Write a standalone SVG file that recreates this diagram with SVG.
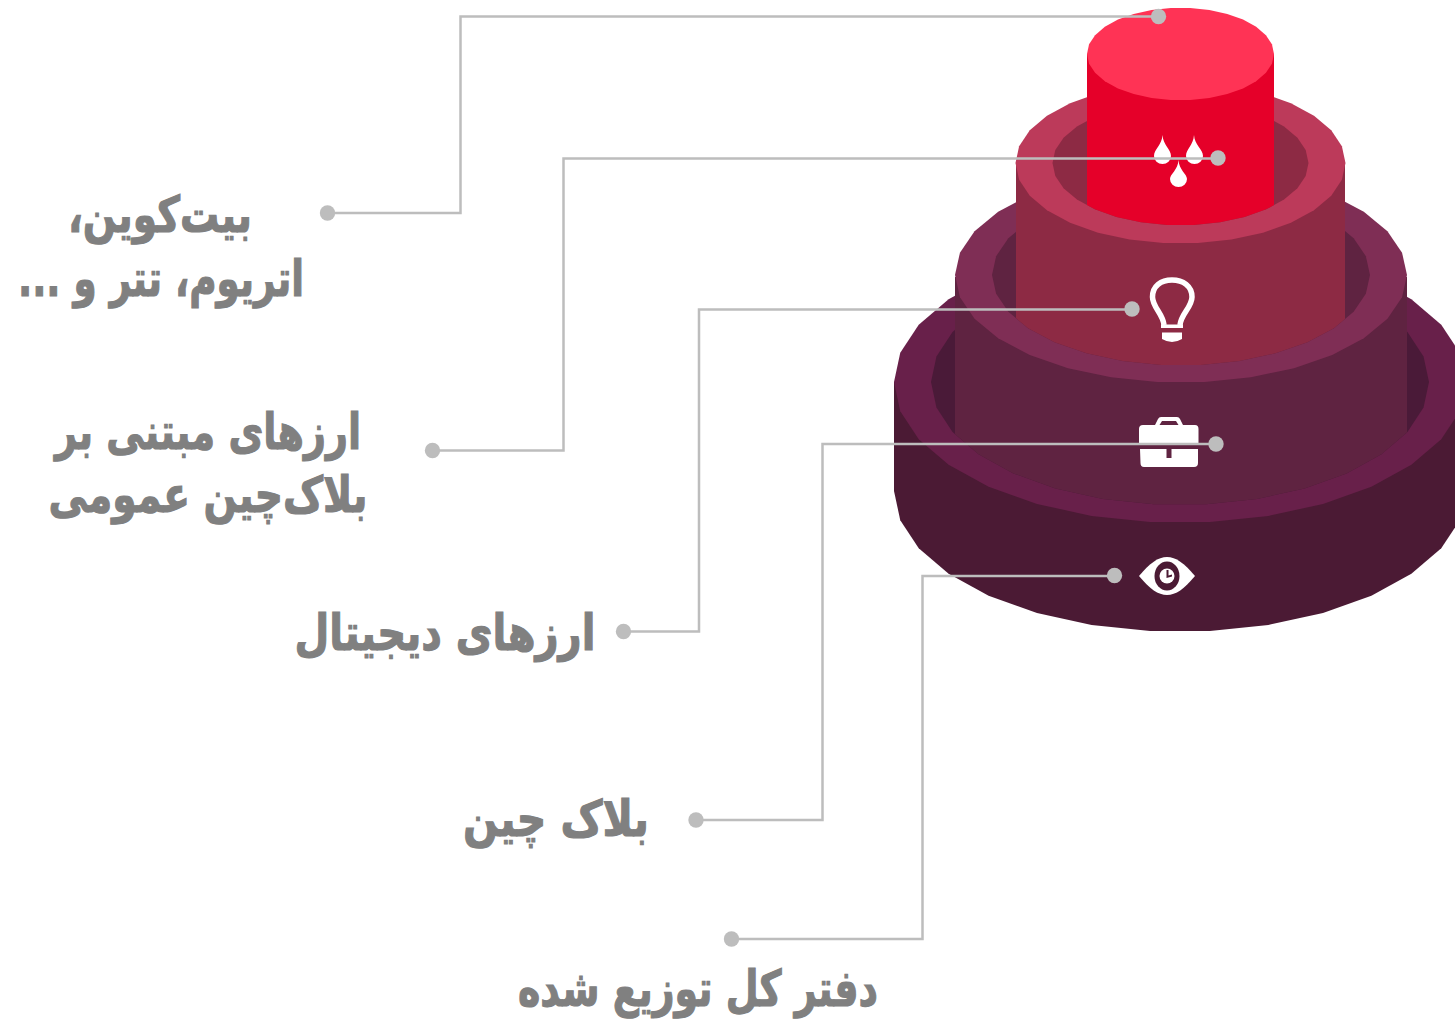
<svg xmlns="http://www.w3.org/2000/svg" xmlns:xlink="http://www.w3.org/1999/xlink" width="1455" height="1025" viewBox="0 0 1455 1025">
<style>
.lbl{font-family:"DejaVu Sans",sans-serif;font-weight:700;font-size:50px;fill:#808080;stroke:#808080;stroke-width:1.2px;direction:rtl;text-anchor:middle}
.conn{fill:none;stroke:#bdbdbd;stroke-width:2.5}
.dot{fill:#bdbdbd}
.ico{fill:#fff}
</style>
<defs>
<polygon id="ring" points="1,0 .9781,.2079 .9135,.4067 .809,.5878 .6691,.7431 .5,.866 .309,.9511 .1045,.9945 -.1045,.9945 -.309,.9511 -.5,.866 -.6691,.7431 -.809,.5878 -.9135,.4067 -.9781,.2079 -1,0 -.9781,-.2079 -.9135,-.4067 -.809,-.5878 -.6691,-.7431 -.5,-.866 -.309,-.9511 -.1045,-.9945 .1045,-.9945 .309,-.9511 .5,-.866 .6691,-.7431 .809,-.5878 .9135,-.4067 .9781,-.2079"/>
<clipPath id="hole1"><rect x="0" y="0" width="1455" height="382"/><use href="#ring" transform="translate(1180 382) scale(249 123)"/></clipPath>
<clipPath id="hole2"><rect x="0" y="0" width="1455" height="275"/><use href="#ring" transform="translate(1181 275) scale(189 90.500)"/></clipPath>
<clipPath id="hole3"><rect x="0" y="0" width="1455" height="163"/><use href="#ring" transform="translate(1180.500 163) scale(128 62.300)"/></clipPath>
</defs>
<rect width="1455" height="1025" fill="#fff"/>
<g id="tier-ledger">
<use href="#ring" transform="translate(1180 491) scale(286 140.800)" fill="#4b1a34"/>
<rect x="894" y="382" width="572" height="109" fill="#4b1a34"/>
<use href="#ring" transform="translate(1180 382) scale(286 140.800)" fill="#68204a"/>
<use href="#ring" transform="translate(1180 382) scale(249 123)" fill="#4a1a38"/>
<path d="M1139 576C1150 563 1158 557 1167 557C1176 557 1184 563 1195 576C1184 589 1176 595 1167 595C1158 595 1150 589 1139 576Z" class="ico"/>
<ellipse cx="1167" cy="576" rx="12.500" ry="14.500" fill="#4b1a34"/>
<circle cx="1167" cy="576" r="7.500" class="ico"/>
<path d="M1166.500 570H1168.500V575.500L1172 574.500V576.500L1166.500 578Z" fill="#4b1a34"/>
</g>
<g id="tier-blockchain">
<rect x="955" y="277" width="452" height="240" fill="#5f2341" clip-path="url(#hole1)"/>
<use href="#ring" transform="translate(1181 275) scale(226 107.600)" fill="#7f2e55"/>
<use href="#ring" transform="translate(1181 275) scale(189 90.500)" fill="#5f2341"/>
<path class="ico" d="M1143 425H1195Q1198.500 425 1198.500 429V444H1139V429Q1139 425 1143 425ZM1140 449H1166.500V458H1171.500V449H1198V463Q1198 467 1194 467H1144Q1140.500 467 1140.500 463Z"/>
<path d="M1155 425L1158 419Q1159 417 1161 417H1177Q1179 417 1180 419L1183 425H1178.500L1176 421H1162L1159.500 425Z" class="ico"/>
</g>
<g id="tier-currencies">
<rect x="1016" y="163" width="329" height="210" fill="#8d2a44" clip-path="url(#hole2)"/>
<use href="#ring" transform="translate(1180.500 163) scale(165 80.400)" fill="#bc3a5a"/>
<use href="#ring" transform="translate(1180.500 163) scale(128 62.300)" fill="#8d2a44"/>
<path d="M1164 325C1163 314 1152.500 307 1152.500 297C1152.500 286 1161 280 1172 280C1183 280 1192 286 1192 297C1192 307 1181 314 1180 325" fill="none" stroke="#fff" stroke-width="5.500" stroke-linejoin="round"/>
<path class="ico" d="M1161 324.500H1183V328H1161ZM1162 332.500H1182V339Q1172 345 1162 339Z"/>
</g>
<g id="tier-public">
<rect x="1087" y="54" width="187" height="175" fill="#e50029" clip-path="url(#hole3)"/>
<use href="#ring" transform="translate(1180.500 54) scale(93.500 46.300)" fill="#ff3355"/>
<g class="ico">
<path d="M1162.500 135C1163 145 1171 149 1171 156A8.500 8 0 0 1 1154 156C1154 149 1162 145 1162.500 135Z"/>
<path d="M1194 135C1194.500 145 1203 149 1203 156A8.500 8 0 0 1 1186 156C1186 149 1193.500 145 1194 135Z"/>
<path d="M1178.500 160C1179 170 1187 174 1187 179A8.500 8 0 0 1 1170 179C1170 174 1178 170 1178.500 160Z"/>
</g>
</g>
<g id="connectors">
<path class="conn" d="M327 213H460.500V16.500H1158"/>
<path class="conn" d="M432 450.500H563.500V158.500H1217"/>
<path class="conn" d="M623 631.500H699V309.500H1132"/>
<path class="conn" d="M695 820H822.500V444H1215"/>
<path class="conn" d="M731 939H922.500V576H1114"/>
<circle class="dot" cx="327.500" cy="213" r="7.700"/><circle class="dot" cx="1158.500" cy="16.500" r="7.700"/>
<circle class="dot" cx="432.500" cy="450.500" r="7.700"/><circle class="dot" cx="1218" cy="158" r="7.700"/>
<circle class="dot" cx="623.500" cy="631.500" r="7.700"/><circle class="dot" cx="1132" cy="309" r="7.700"/>
<circle class="dot" cx="696" cy="820" r="7.700"/><circle class="dot" cx="1216" cy="444" r="7.700"/>
<circle class="dot" cx="731.500" cy="939" r="7.700"/><circle class="dot" cx="1114.500" cy="575.500" r="7.700"/>
</g>
<g id="label-public-coins">
<text class="lbl" x="160" y="232" textLength="184" lengthAdjust="spacingAndGlyphs">بیت‌کوین،</text>
<text class="lbl" x="161" y="296" textLength="286" lengthAdjust="spacingAndGlyphs">اتریوم، تتر و ...</text>
</g>
<g id="label-currencies">
<text class="lbl" x="208" y="449" textLength="306" lengthAdjust="spacingAndGlyphs">ارزهای مبتنی بر</text>
<text class="lbl" x="208" y="512" textLength="319" lengthAdjust="spacingAndGlyphs">بلاک‌چین عمومی</text>
</g>
<g id="label-digital"><text class="lbl" x="445" y="650" textLength="301" lengthAdjust="spacingAndGlyphs">ارزهای دیجیتال</text></g>
<g id="label-blockchain"><text class="lbl" x="556" y="836" textLength="186" lengthAdjust="spacingAndGlyphs">بلاک چین</text></g>
<g id="label-ledger"><text class="lbl" x="698" y="1006" textLength="360" lengthAdjust="spacingAndGlyphs">دفتر کل توزیع شده</text></g>
</svg>
